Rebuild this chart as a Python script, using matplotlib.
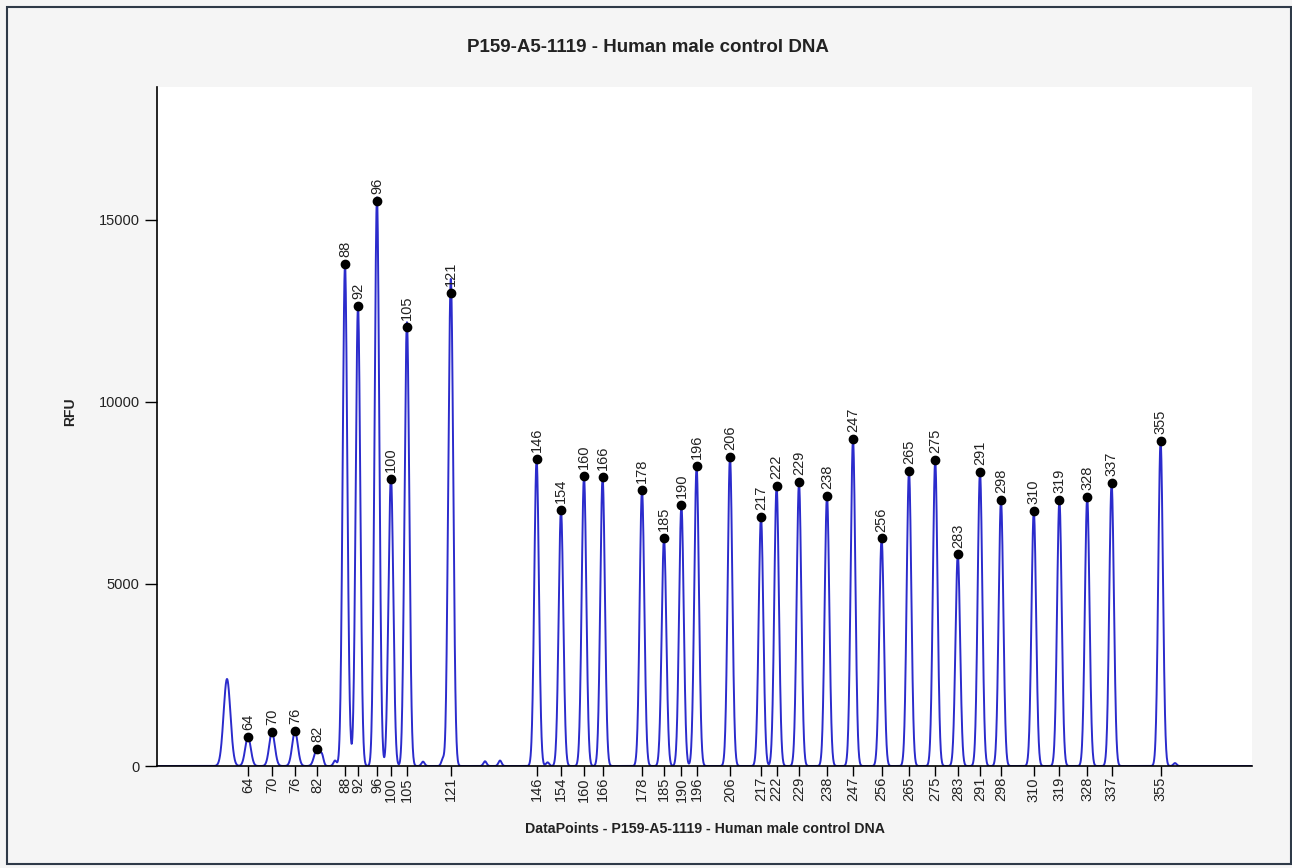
import numpy as np
import matplotlib.pyplot as plt
from matplotlib.patches import Rectangle

plt.rcParams['font.family'] = ['Liberation Sans', 'DejaVu Sans']

title = 'P159-A5-1119 - Human male control DNA'

# 峰的大小标签、位置(DataPoints)和高度(RFU)
sizes = [64, 70, 76, 82, 88, 92, 96, 100, 105, 121, 146, 154, 160, 166, 178,
         185, 190, 196, 206, 217, 222, 229, 238, 247, 256, 265, 275, 283, 291,
         298, 310, 319, 328, 337, 355]
positions = [455, 575, 690, 800, 940, 1005, 1100, 1170, 1250, 1470, 1898, 2020,
             2135, 2228, 2425, 2535, 2622, 2698, 2865, 3020, 3098, 3210, 3350,
             3480, 3623, 3760, 3891, 4004, 4115, 4220, 4384, 4512, 4651, 4773,
             5018]
heights = [800, 930, 950, 470, 13790, 12640, 15520, 7880, 12060, 13000, 8430,
           7040, 7960, 7930, 7590, 6260, 7160, 8230, 8490, 6850, 7690, 7790,
           7420, 8980, 6250, 8100, 8400, 5810, 8080, 7300, 7010, 7300, 7380,
           7770, 8920]

# 未标注的小峰/肩峰
minor_pos = [350, 825, 890, 965, 1085, 1155, 1236, 1330, 1430, 1456, 1640,
             1715, 1953, 5090]
minor_h = [2390, 250, 150, 200, 570, 430, 600, 120, 200, 1600, 130, 150, 100, 80]

x = np.arange(0, 5476, 1.0)
y = np.zeros_like(x)
for p, h in zip(positions, heights):
    s = 14 if p < 900 else 11.5
    y += h * np.exp(-0.5 * ((x - p) / s) ** 2)
for p, h in zip(minor_pos, minor_h):
    s = 17 if h > 2000 else 8
    y += h * np.exp(-0.5 * ((x - p) / s) ** 2)

fig = plt.figure(figsize=(12.92, 8.68), dpi=100, facecolor='#f5f5f5')
ax = fig.add_axes([157 / 1292, 102 / 868, 1095 / 1292, 679 / 868])
ax.set_facecolor('white')

ax.plot(x, y, color='#2b2bcc', lw=1.4, zorder=2)
ax.plot(positions, heights, 'o', color='black', ms=6, zorder=3)
for p, h, s in zip(positions, heights, sizes):
    ax.annotate(str(s), (p, h), xytext=(0, 5), textcoords='offset points',
                rotation=90, ha='center', va='bottom', fontsize=10.5,
                color='#222222')

ax.set_xlim(0, 5475)
ax.set_ylim(0, 18650)
ax.set_xticks(positions)
ax.set_xticklabels([str(s) for s in sizes], rotation=90, fontsize=10.5,
                   color='#222222')
ax.set_yticks([0, 5000, 10000, 15000])
ax.tick_params(axis='y', labelsize=10.5, length=9, width=1, labelcolor='#222222')
ax.tick_params(axis='x', length=7, width=1, pad=1)

for side in ['top', 'right']:
    ax.spines[side].set_visible(False)
ax.spines['left'].set_linewidth(1.2)
ax.spines['bottom'].set_linewidth(1.2)

fig.text(705 / 1292, 1 - 829 / 868, 'DataPoints - ' + title, ha='center',
         va='center', fontsize=10.2, fontweight='bold', color='#222222')
fig.text(70 / 1292, 1 - 412 / 868, 'RFU', ha='center', va='center',
         rotation=90, fontsize=10, fontweight='bold', color='#222222')
fig.text(648 / 1292, 1 - 47 / 868, title, ha='center', va='center',
         fontsize=13.5, fontweight='bold', color='#222222')

fig.patches.append(Rectangle((6.5 / 1292, 4 / 868), 1284 / 1292, 857 / 868,
                             transform=fig.transFigure, fill=False,
                             edgecolor='#2f3a48', lw=1.5))

fig.savefig('out.png', dpi=100, facecolor=fig.get_facecolor())
